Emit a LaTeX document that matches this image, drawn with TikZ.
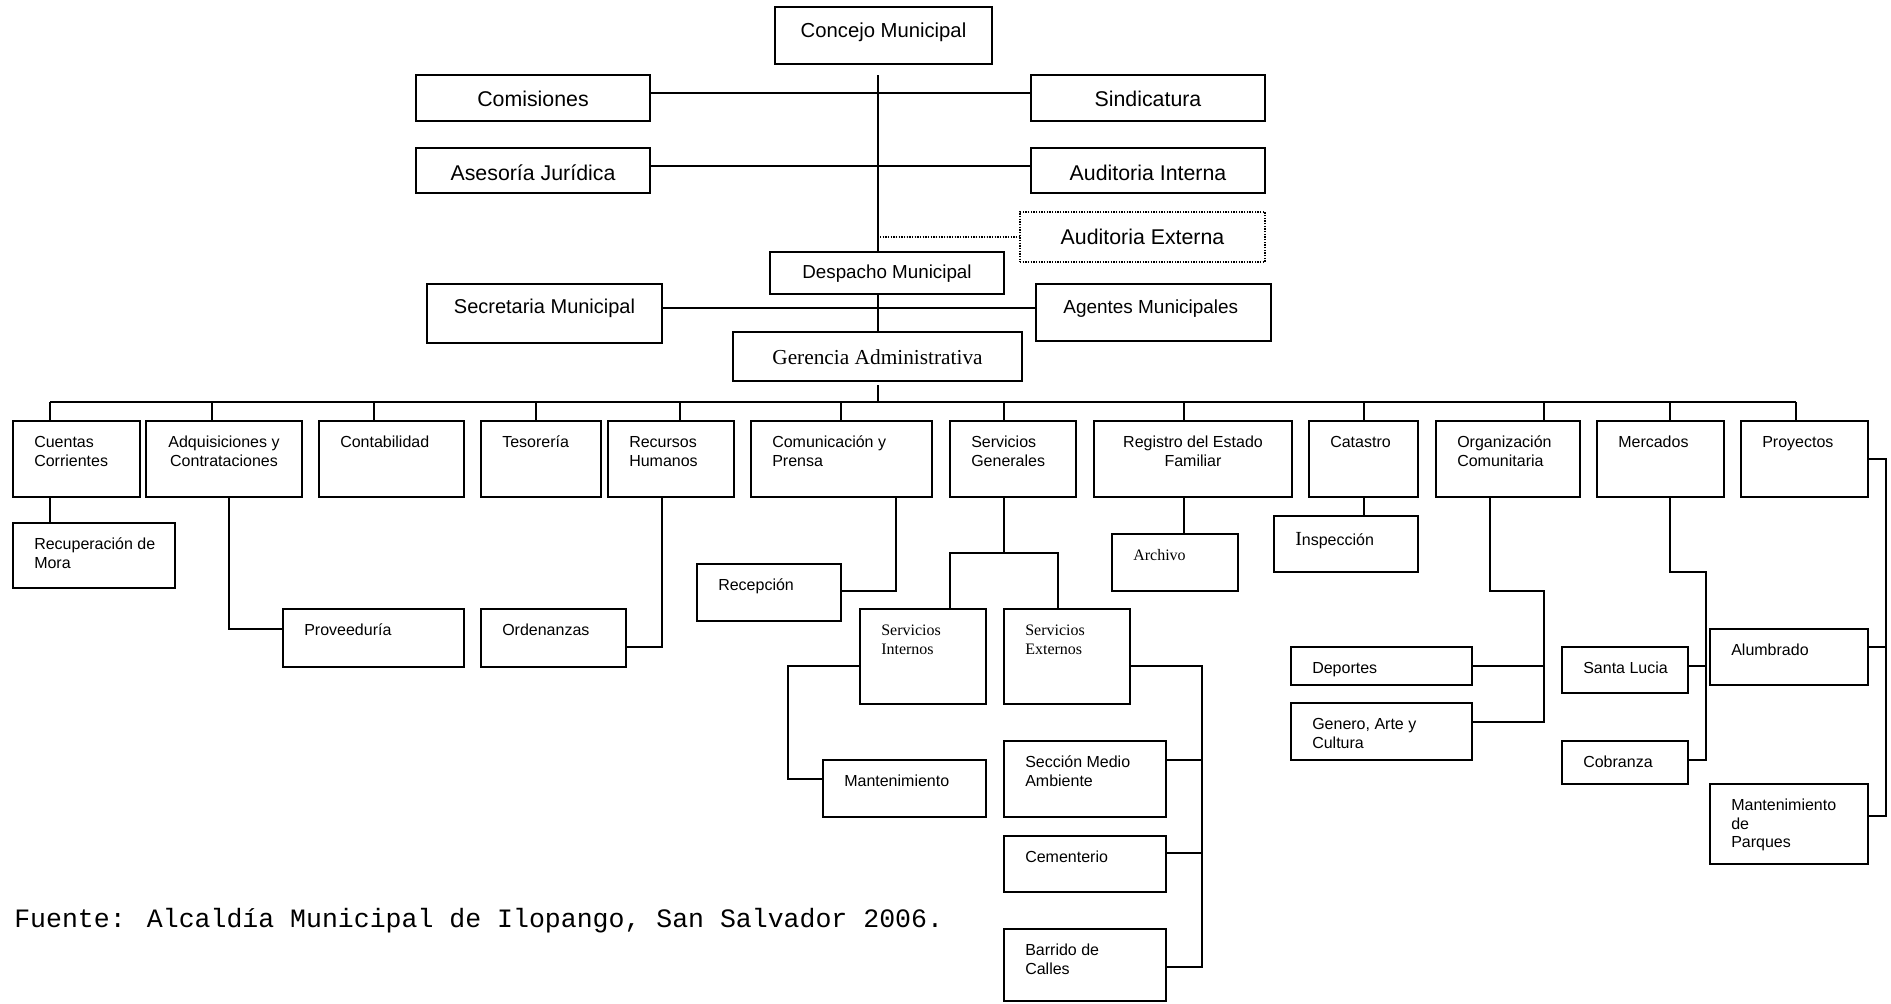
\documentclass[tikz,border=0pt]{standalone}
\usepackage{fontspec}
\setmainfont{Liberation Sans}
\newfontfamily\tnr{Liberation Serif}
\newfontfamily\cour{Liberation Mono}
\usetikzlibrary{fit}
\newcommand\fsm{\fontsize{12}{13.75}\selectfont}
\newcommand\fsmT{\tnr\fontsize{12}{13.75}\selectfont}
\newcommand\ftop{\fontsize{16}{18}\selectfont}
\tikzset{
 bx/.style={draw, line width=1.3pt, inner sep=0pt, outer sep=0pt},
 dbx/.style={draw, densely dotted, line width=1pt, inner sep=0pt, outer sep=0pt},
 ln/.style={line width=1.3pt},
 tl/.style={anchor=north west, inner sep=0pt, align=left, font=\fsm, xshift=15.75pt, yshift=-10.4pt},
 tlT/.style={tl, font=\fsmT},
 tc/.style={anchor=north, inner sep=0pt, align=center, font=\fsm, yshift=-10.4pt},
 ct/.style={anchor=center, inner sep=0pt, font=\ftop},
}
\newcommand\tlbox[6]{\node[bx, fit={(#2,#3) (#4,#5)}, label={[tl]north west:{\strut #6}}] (#1) {};}
\newcommand\tlboxT[6]{\node[bx, fit={(#2,#3) (#4,#5)}, label={[tlT]north west:{\strut #6}}] (#1) {};}
\newcommand\tcbox[6]{\node[bx, fit={(#2,#3) (#4,#5)}, label={[tc]north:{\strut #6}}] (#1) {};}
\begin{document}
\begin{tikzpicture}[x=0.75pt, y=-0.75pt]
\useasboundingbox (0,0) rectangle (1891,1003);
% top level
\node[bx, fit={(775,7) (992,64)}, label={[ct, font=\fontsize{15.2}{17}\selectfont, yshift=2.6pt]center:Concejo Municipal}] (concejo) {};
\node[bx, fit={(416,75) (650,121)}, label={[ct, yshift=-0.8pt]center:Comisiones}] (comis) {};
\node[bx, fit={(1031,75) (1265,121)}, label={[ct, yshift=-0.8pt]center:Sindicatura}] (sindi) {};
\node[bx, fit={(416,148) (650,193)}, label={[ct, yshift=-1.9pt]center:Asesoría Jurídica}] (aseso) {};
\node[bx, fit={(1031,148) (1265,193)}, label={[ct, yshift=-1.9pt]center:Auditoria Interna}] (audint) {};
\node[dbx, fit={(1020,212) (1265,262)}, label={[ct, yshift=0pt]center:Auditoria Externa}] (audext) {};
\node[bx, fit={(770,252) (1004,294)}, label={[ct, font=\fontsize{14.1}{16}\selectfont, yshift=-0.75pt]center:Despacho Municipal}] (desp) {};
\node[bx, fit={(427,284) (662,343)}, label={[ct, font=\fontsize{15}{17}\selectfont, yshift=3.9pt]center:Secretaria Municipal}] (secre) {};
\node[bx, fit={(1036,284) (1271,341)}, label={[ct, font=\fontsize{14.2}{16}\selectfont, yshift=3.1pt, xshift=-2pt]center:Agentes Municipales}] (agent) {};
\node[bx, fit={(733,332) (1022,381)}, label={[ct, font=\tnr\fontsize{16}{18}\selectfont, yshift=-0.2pt]center:Gerencia Administrativa}] (geren) {};
% top connectors
\coordinate (v0) at (878,75);
\coordinate (d0) at (880,237);
\coordinate (g0) at (878,385);
\coordinate (g1) at (878,402);
\draw[ln] (v0) -- (v0 |- desp.north);
\draw[ln] (comis.east |- 0,93) -- (sindi.west |- 0,93);
\draw[ln] (aseso.east |- 0,166) -- (audint.west |- 0,166);
\draw[densely dotted, line width=1pt] (d0) -- (audext.west |- d0);
\draw[ln] (878,0 |- desp.south) -- (878,0 |- geren.north);
\draw[ln] (secre.east |- 0,308) -- (agent.west |- 0,308);
% second row
\tlbox{cuentas}{13}{421}{140}{497}{Cuentas\\Corrientes}
\tcbox{adqui}{146}{421}{302}{497}{Adquisiciones y\\Contrataciones}
\tlbox{conta}{319}{421}{464}{497}{Contabilidad}
\tlbox{tesor}{481}{421}{601}{497}{Tesorería}
\tlbox{rrhh}{608}{421}{734}{497}{Recursos\\Humanos}
\tlbox{comun}{751}{421}{932}{497}{Comunicación y\\Prensa}
\tlbox{servg}{950}{421}{1076}{497}{Servicios\\Generales}
\tcbox{regis}{1094}{421}{1292}{497}{Registro del Estado\\Familiar}
\tlbox{catas}{1309}{421}{1418}{497}{Catastro}
\tlbox{organ}{1436}{421}{1580}{497}{Organización\\Comunitaria}
\tlbox{merca}{1597}{421}{1724}{497}{Mercados}
\tlbox{proye}{1741}{421}{1868}{497}{Proyectos}
% bus
\draw[ln] (g0) -- (g1);
\draw[ln] (50,402) -- (1796,402);
\foreach \xx/\nn in {50/cuentas,212/adqui,374/conta,536/tesor,680/rrhh,841/comun,1004/servg,1184/regis,1364/catas,1544/organ,1670/merca,1796/proye}
  \draw[ln] (\xx,402) -- (\xx,0 |- \nn.north);
% third level
\tlbox{recup}{13}{523}{175}{588}{Recuperación de\\Mora}
\tlbox{prove}{283}{609}{464}{667}{Proveeduría}
\tlbox{orden}{481}{609}{626}{667}{Ordenanzas}
\tlbox{recep}{697}{564}{841}{621}{Recepción}
\tlboxT{sint}{860}{609}{986}{704}{Servicios\\Internos}
\tlboxT{sext}{1004}{609}{1130}{704}{Servicios\\Externos}
\tlbox{mant}{823}{760}{986}{817}{Mantenimiento}
\tlbox{smed}{1004}{741}{1166}{817}{Sección Medio\\Ambiente}
\tlbox{cemen}{1004}{836}{1166}{892}{Cementerio}
\tlbox{barri}{1004}{929}{1166}{1001}{Barrido de\\Calles}
\tlboxT{archi}{1112}{534}{1238}{591}{Archivo}
\node[bx, fit={(1274,516) (1418,572)}, label={[tl, yshift=-2pt]north west:{\strut{\tnr\fontsize{15}{15}\selectfont I}nspección}}] (inspe) {};
\tlbox{depor}{1291}{647}{1472}{685}{Deportes}
\tlbox{gener}{1291}{703}{1472}{760}{Genero, Arte y\\Cultura}
\tlbox{santa}{1562}{647}{1688}{693}{Santa Lucia}
\tlbox{cobra}{1562}{741}{1688}{784}{Cobranza}
\tlbox{alumb}{1710}{629}{1868}{685}{Alumbrado}
\tlbox{mpar}{1710}{784}{1868}{864}{Mantenimiento\\de\\Parques}
% connectors
\draw[ln] (50,0 |- cuentas.south) -- (50,0 |- recup.north);
\draw[ln] (229,0 |- adqui.south) |- (prove.west |- 0,629);
\draw[ln] (662,0 |- rrhh.south) |- (orden.east |- 0,647);
\draw[ln] (896,0 |- comun.south) |- (recep.east |- 0,591);
\draw[ln] (1004,0 |- servg.south) -- (1004,553);
\draw[ln] (950,0 |- sint.north) |- (1058,553) -- (1058,0 |- sext.north);
\draw[ln] (sint.west |- 0,666) -| (788,779) -- (mant.west |- 0,779);
\draw[ln] (sext.east |- 0,666) -| (1202,967) -- (barri.east |- 0,967);
\draw[ln] (smed.east |- 0,760) -- (1202,760);
\draw[ln] (cemen.east |- 0,853) -- (1202,853);
\draw[ln] (1184,0 |- regis.south) -- (1184,0 |- archi.north);
\draw[ln] (1364,0 |- catas.south) -- (1364,0 |- inspe.north);
\draw[ln] (1490,0 |- organ.south) |- (1544,591) -- (1544,722) -- (gener.east |- 0,722);
\draw[ln] (depor.east |- 0,666) -- (1544,666);
\draw[ln] (1670,0 |- merca.south) |- (1706,572) -- (1706,760) -- (cobra.east |- 0,760);
\draw[ln] (santa.east |- 0,666) -- (1706,666);
\draw[ln] (proye.east |- 0,459) -| (1886,816) -- (mpar.east |- 0,816);
\draw[ln] (alumb.east |- 0,647) -- (1886,647);
% source
\node[anchor=base west, inner sep=0pt, font=\cour\fontsize{19.9}{22}\selectfont] (fuente) at (14,927) {Fuente: Alcaldía Municipal de Ilopango, San Salvador 2006.};
\end{tikzpicture}
\end{document}
